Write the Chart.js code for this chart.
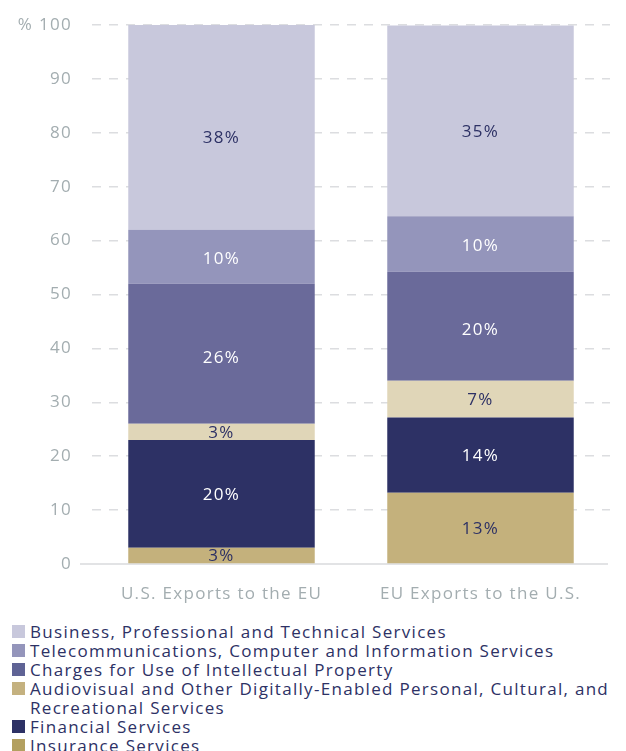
<!DOCTYPE html>
<html>
<head>
<meta charset="utf-8">
<script src="https://cdn.jsdelivr.net/npm/chart.js@4/dist/chart.umd.min.js"></script>
<style>
    body { margin: 0; background: #fff; font-family: "Open Sans", sans-serif; }
    #wrap { width: 626px; height: 610px; }
    #legend { margin: 12px 0 0 12px; color: #2d3165; font-size: 17px; line-height: 19px; letter-spacing: 1.3px; }
    .item { display: flex; align-items: flex-start; }
    .box { flex: none; width: 13px; height: 13px; margin: 3px 5px 0 0; }
</style>
</head>
<body>
<div id="wrap"><canvas id="myChart" width="626" height="610"></canvas></div>
<div id="legend"></div>
<script>
// categories and series (stacked from bottom to top)
const categories = ['U.S. Exports to the EU', 'EU Exports to the U.S.'];
const seriesNames = [
    'Insurance Services',
    'Financial Services',
    'Audiovisual and Other Digitally-Enabled Personal, Cultural, and Recreational Services',
    'Charges for Use of Intellectual Property',
    'Telecommunications, Computer and Information Services',
    'Business, Professional and Technical Services'
];
const insurance = [3, 13.2];
const financial = [20, 14.0];
const audiovisual = [3, 6.8];
const charges = [26, 20.2];
const telecom = [10, 10.3];
const business = [38, 35.4];
const yTicks = [0, 10, 20, 30, 40, 50, 60, 70, 80, 90, 100];

const barColors = ['#c4b17c', '#2d3165', '#e0d6b8', '#6a6a9a', '#9495bb', '#c8c8dc'];
const legendColors = ['#b3a060', '#2d3165', '#c4b17f', '#5f6395', '#9495bb', '#c8c8dc'];
const labelColors = ['#2d3165', '#ffffff', '#2d3165', '#ffffff', '#ffffff', '#2d3165'];
// small vertical nudges for the labels (px), as placed in the original
const labelNudge = [1, 1, 1, 4, 2, 11];
const allValues = [insurance, financial, audiovisual, charges, telecom, business];

const fontFamily = '"Open Sans", sans-serif';

const datasets = allValues.map((vals, i) => ({
    label: seriesNames[i],
    data: vals,
    backgroundColor: barColors[i],
    borderWidth: 0,
    barPercentage: 0.72,
    categoryPercentage: 1.0,
}));

// wider letters, like the original typeface
const spacing = {
    id: 'spacing',
    beforeDraw(chart) { chart.ctx.letterSpacing = '1.3px'; }
};

// draw the percentage in the middle of each segment
const segmentLabels = {
    id: 'segmentLabels',
    afterDatasetsDraw(chart) {
        const ctx = chart.ctx;
        ctx.save();
        ctx.font = '17px ' + fontFamily;
        ctx.textAlign = 'center';
        ctx.textBaseline = 'middle';
        chart.data.datasets.forEach((ds, i) => {
            const meta = chart.getDatasetMeta(i);
            meta.data.forEach((bar, j) => {
                const v = ds.data[j];
                const mid = (bar.y + bar.base) / 2;
                ctx.fillStyle = labelColors[i];
                ctx.fillText(Math.round(v) + '%', bar.x, mid + labelNudge[i]);
            });
        });
        ctx.restore();
    }
};

// baseline that reaches a bit left of the plot
const baseLine = {
    id: 'baseLine',
    beforeDatasetsDraw(chart) {
        const ctx = chart.ctx;
        const y = chart.scales.y.getPixelForValue(0);
        ctx.save();
        ctx.strokeStyle = '#d9dadc';
        ctx.lineWidth = 1.5;
        ctx.beginPath();
        ctx.moveTo(chart.chartArea.left - 12, y);
        ctx.lineTo(chart.chartArea.right - 2, y);
        ctx.stroke();
        ctx.restore();
    }
};

const ctx = document.getElementById('myChart').getContext('2d');
const myChart = new Chart(ctx, {
    type: 'bar',
    data: {
        labels: categories,
        datasets: datasets
    },
    options: {
        responsive: false,
        animation: false,
        layout: {
            padding: { top: 25, right: 16, left: 0, bottom: 0 }
        },
        plugins: {
            legend: { display: false },
            tooltip: { enabled: false }
        },
        scales: {
            x: {
                stacked: true,
                grid: { display: false },
                border: { display: false },
                ticks: {
                    color: '#a3adb0',
                    font: { family: fontFamily, size: 17 },
                    padding: 12
                },
                afterFit(scale) {
                    scale.height = 46;
                    scale.paddingLeft = 0;
                    scale.paddingRight = 0;
                }
            },
            y: {
                stacked: true,
                min: 0,
                max: 100,
                afterBuildTicks(scale) {
                    scale.ticks = yTicks.map(v => ({ value: v }));
                },
                afterFit(scale) {
                    scale.width = 92;
                    scale.paddingTop = 0;
                    scale.paddingBottom = 0;
                },
                ticks: {
                    color: '#a3adb0',
                    font: { family: fontFamily, size: 17 },
                    padding: 20,
                    callback: v => (v === 100 ? '% 100' : v)
                },
                grid: {
                    color: ctx => (ctx.tick && ctx.tick.value === 0 ? 'rgba(0,0,0,0)' : '#dcdde0'),
                    lineWidth: 1.5,
                    drawTicks: false
                },
                border: { display: false, dash: [9, 8] }
            }
        }
    },
    plugins: [spacing, baseLine, segmentLabels]
});

// legend, top entry first
const legend = document.getElementById('legend');
for (let i = seriesNames.length - 1; i >= 0; i--) {
    const item = document.createElement('div');
    item.className = 'item';
    item.innerHTML = '<span class="box" style="background:' + legendColors[i] + '"></span><span>' + seriesNames[i] + '</span>';
    legend.appendChild(item);
}
</script>
</body>
</html>
